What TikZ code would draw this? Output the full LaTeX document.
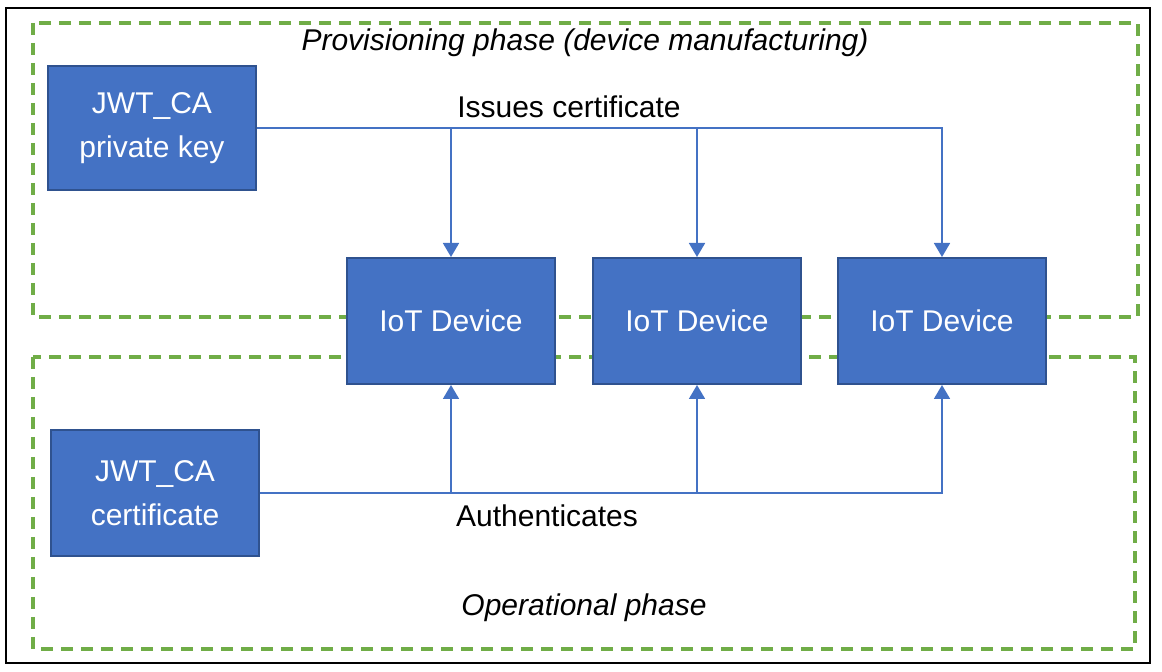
\documentclass[tikz,border=0pt]{standalone}
\usepackage{fontspec}
\setmainfont{Liberation Sans}
\usepackage{xcolor}
\usetikzlibrary{arrows.meta, positioning, calc}

\definecolor{devblue}{HTML}{4472C4}
\definecolor{devedge}{HTML}{2F528F}
\definecolor{phasegreen}{HTML}{70AD47}

\begin{document}
\begin{tikzpicture}[
    x=0.5pt, y=-0.5pt,
    box/.style={draw=devedge, line width=1pt, fill=devblue, text=white,
                align=center, inner sep=0pt, font=\fontsize{15}{22}\selectfont},
    device/.style={box, minimum width=104pt, minimum height=63pt},
    keybox/.style={box, minimum width=104pt, minimum height=62pt},
    phase/.style={draw=phasegreen, line width=2pt, dash pattern=on 6pt off 4pt},
    arrow/.style={-{Triangle[width=8pt,length=7pt]}, draw=devblue, line width=0.9pt},
    lbl/.style={font=\fontsize{15}{18}\selectfont},
]
  \useasboundingbox (0,0) rectangle (1162,672);
  \draw[line width=0.8pt] (6,8) rectangle (1150,663);

  % Phases
  \draw[phase] (33,23) rectangle (1138,317);
  \draw[phase] (33,357) rectangle (1135,649);
  \node[lbl, font=\fontsize{15}{18}\selectfont\itshape] (prov) at (585,43)
      {Provisioning phase (device manufacturing)};
  \node[lbl, font=\fontsize{15}{18}\selectfont\itshape] (oper) at (584,608)
      {Operational phase};

  % Nodes
  \node[keybox] (privkey) at (152,128) {JWT\_CA\\private key};
  \node[keybox, minimum height=63pt] (cacert) at (155,493) {JWT\_CA\\certificate};
  \node[device] (dev1) at (451,321) {IoT Device};
  \node[device] (dev2) at (697,321) {IoT Device};
  \node[device] (dev3) at (942,321) {IoT Device};

  % Arrows
  \draw[arrow] (privkey.east) -| (dev3.north);
  \draw[arrow] (privkey.east -| dev1.north) -- (dev1.north);
  \draw[arrow] (privkey.east -| dev2.north) -- (dev2.north);
  \draw[arrow] (cacert.east) -| (dev3.south);
  \draw[arrow] (cacert.east -| dev1.south) -- (dev1.south);
  \draw[arrow] (cacert.east -| dev2.south) -- (dev2.south);

  \node[lbl] (issues) at (569,107) {Issues certificate};
  \node[lbl] (auth) at (547,516) {Authenticates};
\end{tikzpicture}
\end{document}
